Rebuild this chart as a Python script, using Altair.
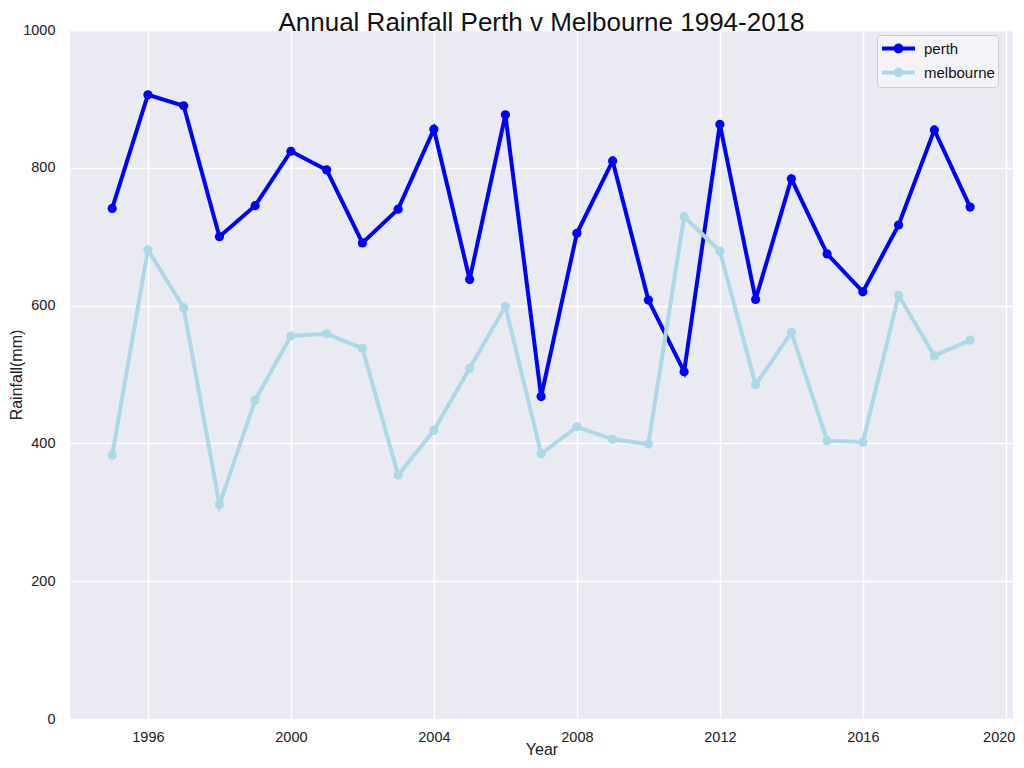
import altair as alt
import pandas as pd

years = list(range(1995, 2020))
perth = [741, 906, 890, 700, 745, 824, 797, 691, 740, 856, 638, 877, 468, 705, 810,
         608, 504, 863, 609, 784, 675, 620, 717, 855, 743]
melbourne = [383, 681, 597, 311, 463, 556, 559, 538, 354, 419, 509, 599, 385, 424, 406,
             399, 729, 679, 485, 561, 404, 402, 615, 527, 550]
cities = ["perth", "melbourne"]
colors = ["#0000FF", "#ADD8E6"]
x_ticks = [1996, 2000, 2004, 2008, 2012, 2016, 2020]
y_ticks = [0, 200, 400, 600, 800, 1000]

rows = []
for y, p, m in zip(years, perth, melbourne):
    rows.append({"Year": y, "Rainfall": p, "City": "perth"})
    rows.append({"Year": y, "Rainfall": m, "City": "melbourne"})
df = pd.DataFrame(rows)

sym = ("M-2,0L2,0 "
       "M0.36,0A0.36,0.36 0 1,1 -0.36,0A0.36,0.36 0 1,1 0.36,0 "
       "M0.12,0A0.12,0.12 0 1,1 -0.12,0A0.12,0.12 0 1,1 0.12,0")

legend = alt.Legend(
    title=None, orient="none", legendX=807, legendY=5,
    symbolType=sym, symbolSize=272, symbolStrokeWidth=4,
    labelFontSize=15, labelFont="Liberation Sans", labelColor="#111111",
    fillColor="#F4F4F8", strokeColor="#CCCCCC", cornerRadius=4,
    padding=3, rowPadding=1, labelOffset=15, symbolOffset=8,
)

xenc = alt.X("Year:Q", title="Year",
             scale=alt.Scale(domain=[1993.82, 2020.2], nice=False, zero=False),
             axis=alt.Axis(values=x_ticks, format="d", labelPadding=11, titlePadding=-2,
                           labelFlush=12, labelFlushOffset=9))
yenc = alt.Y("Rainfall:Q", title="Rainfall(mm)",
             scale=alt.Scale(domain=[0, 1000], nice=False),
             axis=alt.Axis(values=y_ticks, format="d", labelPadding=15, titlePadding=-2))
cenc = alt.Color("City:N", scale=alt.Scale(domain=cities, range=colors), legend=legend)

layers = []
for c in cities:
    sub = alt.Chart(df).transform_filter(alt.datum.City == c)
    layers.append(sub.mark_line(strokeWidth=4).encode(x=xenc, y=yenc, color=cenc))
    layers.append(sub.mark_point(filled=True, size=85, opacity=1).encode(x=xenc, y=yenc, color=cenc))

chart = alt.layer(*layers).properties(
    width=943, height=689,
    title=alt.TitleParams("Annual Rainfall Perth v Melbourne 1994-2018",
                          fontSize=26, font="Liberation Sans", fontWeight="normal",
                          color="#111111", anchor="middle", offset=-14),
    autosize=alt.AutoSizeParams(type="none"),
    padding={"left": 62, "top": 22, "right": 3, "bottom": 40},
).configure_view(
    fill="#EAEAF2", stroke=None
).configure_axis(
    domain=False, ticks=False, grid=True, gridColor="#FFFFFF", gridWidth=1.5,
    labelFont="Liberation Sans", labelFontSize=14.5, labelColor="#222222",
    titleFont="Liberation Sans", titleFontSize=16, titleFontWeight="normal",
    titleColor="#222222",
)

chart.save("out.html", embed_options={"renderer": "svg", "actions": False})
